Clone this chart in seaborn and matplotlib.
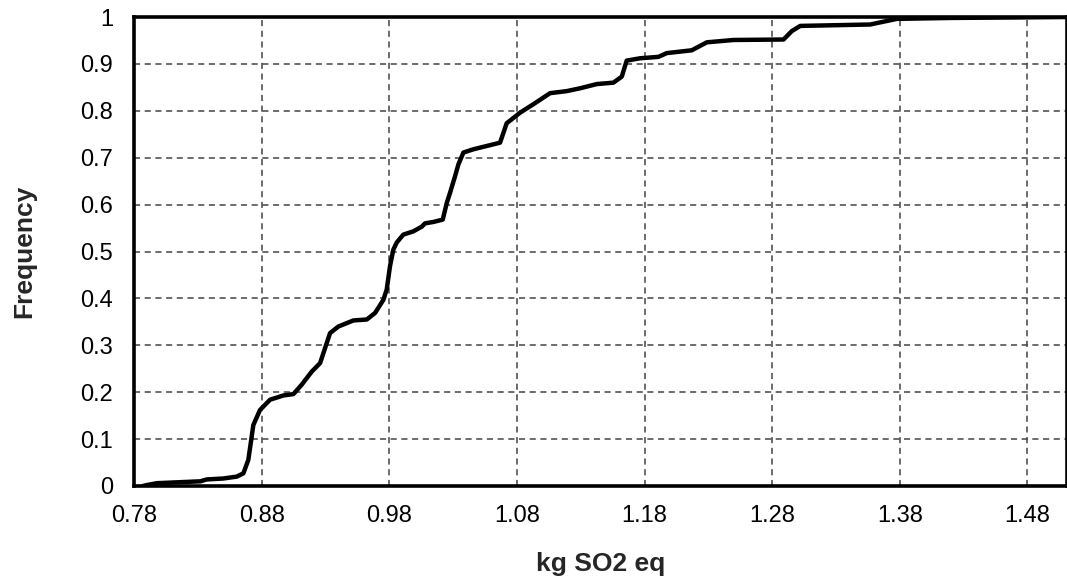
import matplotlib
matplotlib.use("Agg")
import matplotlib.pyplot as plt
import seaborn as sns
import numpy as np
import pandas as pd

# Cumulative frequency curve
x_vals = [0.787, 0.790, 0.798, 0.815, 0.832, 0.837, 0.850, 0.8605, 0.8657, 0.8696,
          0.8735, 0.8787, 0.8866, 0.897, 0.9049, 0.9114, 0.9193, 0.9258, 0.9297,
          0.9336, 0.9401, 0.9519, 0.9624, 0.9689, 0.9754, 0.978, 0.9806, 0.9832,
          0.9858, 0.991, 0.9989, 1.0055, 1.008, 1.0146, 1.0219, 1.0251, 1.0276,
          1.0316, 1.0342, 1.0381, 1.046, 1.0564, 1.0668, 1.072, 1.0825, 1.0929,
          1.106, 1.1191, 1.1295, 1.1426, 1.1556, 1.1622, 1.166, 1.1765, 1.1909,
          1.1974, 1.217, 1.2288, 1.2497, 1.2889, 1.2954, 1.302, 1.3568, 1.3777,
          1.42, 1.47, 1.511]
y_vals = [0.0, 0.002, 0.006, 0.008, 0.010, 0.014, 0.016, 0.020, 0.027, 0.056,
          0.130, 0.162, 0.184, 0.193, 0.196, 0.216, 0.244, 0.262, 0.294,
          0.326, 0.340, 0.353, 0.355, 0.369, 0.397, 0.419, 0.469, 0.504,
          0.519, 0.536, 0.543, 0.553, 0.560, 0.563, 0.568, 0.604, 0.625,
          0.661, 0.686, 0.711, 0.718, 0.725, 0.732, 0.7735, 0.796, 0.814,
          0.8376, 0.842, 0.848, 0.857, 0.860, 0.873, 0.907, 0.912, 0.915,
          0.923, 0.929, 0.946, 0.951, 0.952, 0.970, 0.981, 0.984, 0.996,
          0.998, 0.999, 1.0]

x_ticks = [0.78, 0.88, 0.98, 1.08, 1.18, 1.28, 1.38, 1.48]
x_tick_labels = ["0.78", "0.88", "0.98", "1.08", "1.18", "1.28", "1.38", "1.48"]
y_ticks = [0, 0.1, 0.2, 0.3, 0.4, 0.5, 0.6, 0.7, 0.8, 0.9, 1]
y_tick_labels = ["0", "0.1", "0.2", "0.3", "0.4", "0.5", "0.6", "0.7", "0.8", "0.9", "1"]

df = pd.DataFrame({"x": x_vals, "y": y_vals})

sns.set_style("white")
plt.rcParams["font.family"] = ["Liberation Sans", "DejaVu Sans"]

fig = plt.figure(figsize=(10.67, 5.8), dpi=100)
ax = fig.add_axes([134 / 1067, 1 - 486 / 580, (1067 - 134) / 1067, (486 - 17) / 580])

ax.set_xlim(0.78, 1.511)
ax.set_ylim(0, 1)

for xv in x_ticks[1:]:
    ax.axvline(xv, color="#444444", lw=1.1, ls=(0, (4, 3)), zorder=1)
for yv in y_ticks[1:-1]:
    ax.axhline(yv, color="#444444", lw=1.1, ls=(0, (4, 3)), zorder=1)

sns.lineplot(data=df, x="x", y="y", sort=False, color="black", lw=3.2, ax=ax,
             zorder=3, estimator=None)

ax.set_xticks(x_ticks)
ax.set_xticklabels(x_tick_labels)
ax.set_yticks(y_ticks)
ax.set_yticklabels(y_tick_labels)
ax.tick_params(axis="both", length=0, labelsize=17, colors="black")
ax.tick_params(axis="y", pad=15)
ax.tick_params(axis="x", pad=14)

for side in ["left", "bottom", "top", "right"]:
    ax.spines[side].set_visible(True)
    ax.spines[side].set_color("black")
    ax.spines[side].set_linewidth(2.6)
    ax.spines[side].set_zorder(4)

ax.set_xlabel("kg SO2 eq", fontsize=19, fontweight="bold", labelpad=18)
ax.set_ylabel("Frequency", fontsize=19, fontweight="bold", labelpad=32)

fig.savefig("out.png", dpi=100)
